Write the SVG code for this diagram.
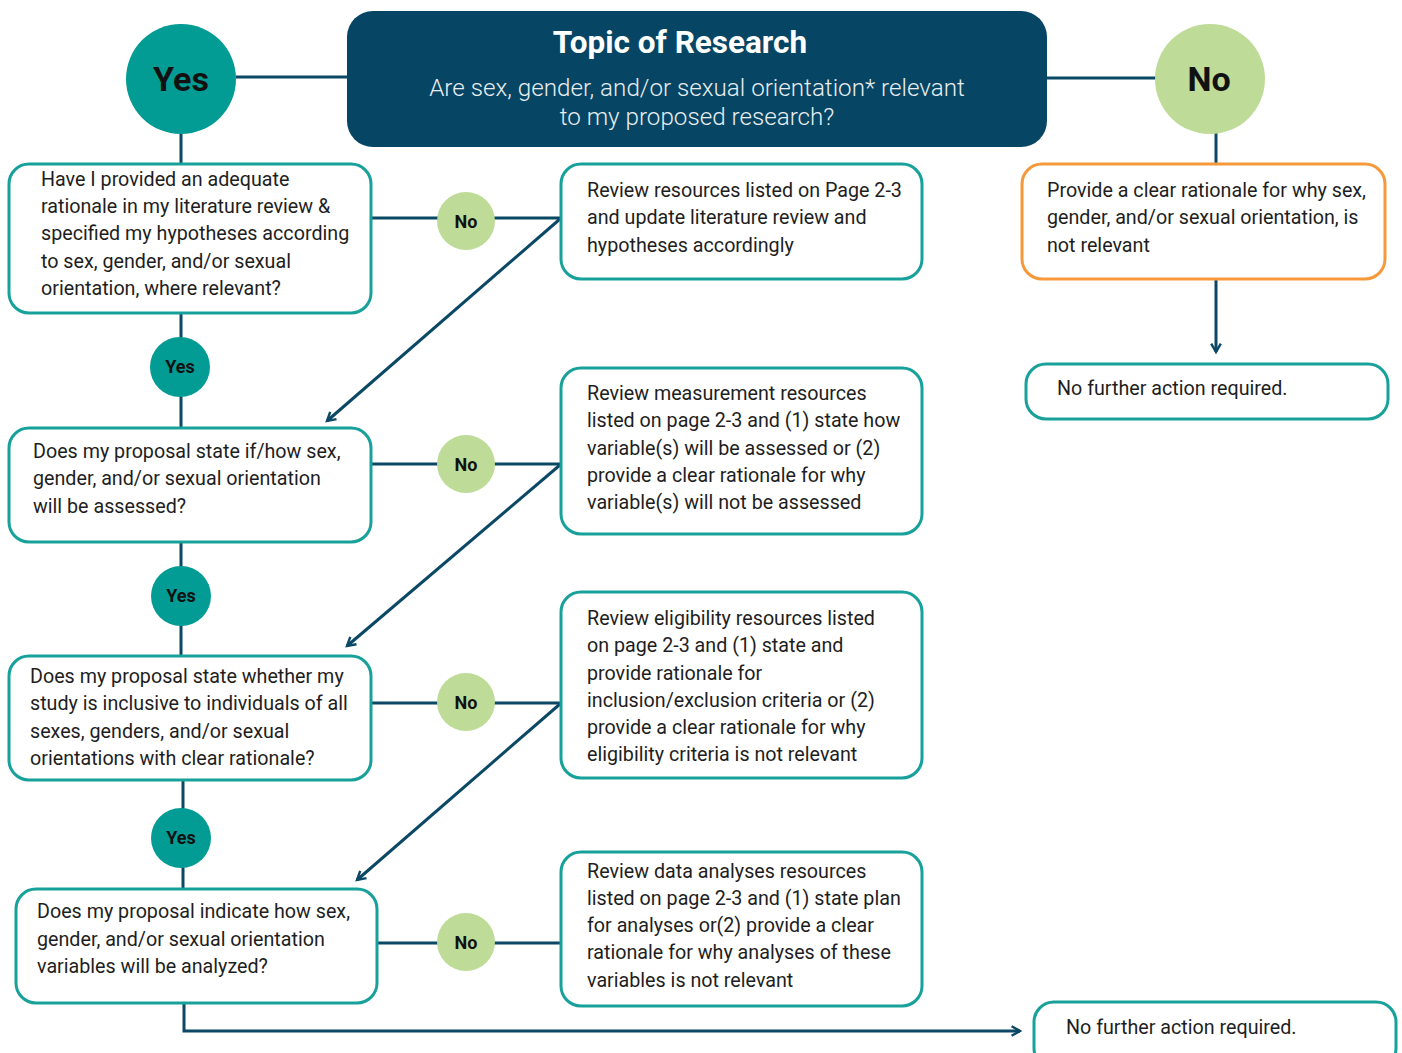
<svg xmlns="http://www.w3.org/2000/svg" width="1402" height="1053" viewBox="0 0 1402 1053">
<style>
.box{fill:#fff;stroke:#17a19a;stroke-width:3}
.obox{fill:#fff;stroke:#f5993b;stroke-width:3}
.t{font-family:Roboto,"Liberation Sans",sans-serif;font-size:19.7px;fill:#1e1e1e}
.yes{fill:#029c94}
.no{fill:#bedb97}
.lbl{font-family:Roboto,"Liberation Sans",sans-serif;font-weight:bold;font-size:18px;fill:#111;text-anchor:middle}
.big{font-family:Roboto,"Liberation Sans",sans-serif;font-weight:bold;font-size:34px;fill:#111;text-anchor:middle}
.ln{stroke:#0b4865;stroke-width:3;fill:none}
</style>
<defs>
<marker id="ah" viewBox="0 0 10 10" refX="8" refY="5" markerWidth="4" markerHeight="4" orient="auto-start-reverse" markerUnits="strokeWidth">
<path d="M1,1 L8,5 L1,9" fill="none" stroke="#0b4865" stroke-width="2"/>
</marker>
</defs>
<rect width="1402" height="1053" fill="#fff"/>
<g id="connectors">
<line class="ln" x1="236" y1="77" x2="348" y2="77"/>
<line class="ln" x1="1046" y1="78" x2="1156" y2="78"/>
<line class="ln" x1="181" y1="133" x2="181" y2="164"/>
<line class="ln" x1="1216" y1="133" x2="1216" y2="164"/>
<line class="ln" x1="1216" y1="279" x2="1216" y2="352" marker-end="url(#ah)"/>
<line class="ln" x1="181" y1="313" x2="181" y2="428"/>
<line class="ln" x1="181" y1="542" x2="181" y2="656"/>
<line class="ln" x1="183" y1="780" x2="183" y2="889"/>
<polyline class="ln" points="184,1003 184,1031 1020,1031" marker-end="url(#ah)"/>
<line class="ln" x1="371" y1="218" x2="561" y2="218"/>
<line class="ln" x1="371" y1="464" x2="561" y2="464"/>
<line class="ln" x1="371" y1="703" x2="561" y2="703"/>
<line class="ln" x1="377" y1="943" x2="561" y2="943"/>
<line class="ln" x1="560" y1="219" x2="327" y2="421" marker-end="url(#ah)"/>
<line class="ln" x1="560" y1="465" x2="347" y2="646" marker-end="url(#ah)"/>
<line class="ln" x1="560" y1="704" x2="357" y2="880" marker-end="url(#ah)"/>
</g>
<g id="topic">
<rect x="347" y="11" width="700" height="136" rx="26" fill="#064563"/>
<text x="680" y="53" text-anchor="middle" font-family="Roboto,'Liberation Sans',sans-serif" font-weight="bold" font-size="31.5" fill="#fff">Topic of Research</text>
<text x="697" y="96" text-anchor="middle" font-family="Roboto,'Liberation Sans',sans-serif" font-weight="300" font-size="24.2" fill="#e8eef2">Are sex, gender, and/or sexual orientation* relevant</text>
<text x="697" y="125" text-anchor="middle" font-family="Roboto,'Liberation Sans',sans-serif" font-weight="300" font-size="24.2" fill="#e8eef2">to my proposed research?</text>
</g>
<g id="yes-main"><circle class="yes" cx="181" cy="79" r="55"/><text class="big" x="181" y="91">Yes</text></g>
<g id="no-main"><circle class="no" cx="1210" cy="79" r="55"/><text class="big" x="1209" y="91">No</text></g>
<g id="q1">
<rect class="box" x="9" y="164" width="362" height="149" rx="20"/>
<text class="t"><tspan x="41" y="186">Have I provided an adequate</tspan><tspan x="41" y="213">rationale in my literature review &amp;</tspan><tspan x="41" y="240">specified my hypotheses according</tspan><tspan x="41" y="268">to sex, gender, and/or sexual</tspan><tspan x="41" y="295">orientation, where relevant?</tspan></text>
</g>
<g id="no1"><circle class="no" cx="466" cy="221" r="29"/><text class="lbl" x="466" y="228">No</text></g>
<g id="r1">
<rect class="box" x="561" y="164" width="361" height="115" rx="20"/>
<text class="t"><tspan x="587" y="197">Review resources listed on Page 2-3</tspan><tspan x="587" y="224">and update literature review and</tspan><tspan x="587" y="252">hypotheses accordingly</tspan></text>
</g>
<g id="yes1"><circle class="yes" cx="180" cy="367" r="30"/><text class="lbl" x="180" y="373">Yes</text></g>
<g id="q2">
<rect class="box" x="9" y="428" width="362" height="114" rx="20"/>
<text class="t"><tspan x="33" y="458">Does my proposal state if/how sex,</tspan><tspan x="33" y="485">gender, and/or sexual orientation</tspan><tspan x="33" y="513">will be assessed?</tspan></text>
</g>
<g id="no2"><circle class="no" cx="466" cy="464" r="29"/><text class="lbl" x="466" y="471">No</text></g>
<g id="r2">
<rect class="box" x="561" y="368" width="361" height="166" rx="20"/>
<text class="t"><tspan x="587" y="400">Review measurement resources</tspan><tspan x="587" y="427">listed on page 2-3 and (1) state how</tspan><tspan x="587" y="455">variable(s) will be assessed or (2)</tspan><tspan x="587" y="482">provide a clear rationale for why</tspan><tspan x="587" y="509">variable(s) will not be assessed</tspan></text>
</g>
<g id="yes2"><circle class="yes" cx="181" cy="596" r="30"/><text class="lbl" x="181" y="602">Yes</text></g>
<g id="q3">
<rect class="box" x="9" y="656" width="362" height="124" rx="20"/>
<text class="t"><tspan x="30" y="683">Does my proposal state whether my</tspan><tspan x="30" y="710">study is inclusive to individuals of all</tspan><tspan x="30" y="738">sexes, genders, and/or sexual</tspan><tspan x="30" y="765">orientations with clear rationale?</tspan></text>
</g>
<g id="no3"><circle class="no" cx="466" cy="702" r="29"/><text class="lbl" x="466" y="709">No</text></g>
<g id="r3">
<rect class="box" x="561" y="592" width="361" height="186" rx="20"/>
<text class="t"><tspan x="587" y="625">Review eligibility resources listed</tspan><tspan x="587" y="652">on page 2-3 and (1) state and</tspan><tspan x="587" y="680">provide rationale for</tspan><tspan x="587" y="707">inclusion/exclusion criteria or (2)</tspan><tspan x="587" y="734">provide a clear rationale for why</tspan><tspan x="587" y="761">eligibility criteria is not relevant</tspan></text>
</g>
<g id="yes3"><circle class="yes" cx="181" cy="838" r="30"/><text class="lbl" x="181" y="844">Yes</text></g>
<g id="q4">
<rect class="box" x="16" y="889" width="361" height="114" rx="20"/>
<text class="t"><tspan x="37" y="918">Does my proposal indicate how sex,</tspan><tspan x="37" y="946">gender, and/or sexual orientation</tspan><tspan x="37" y="973">variables will be analyzed?</tspan></text>
</g>
<g id="no4"><circle class="no" cx="466" cy="942" r="29"/><text class="lbl" x="466" y="949">No</text></g>
<g id="r4">
<rect class="box" x="561" y="852" width="361" height="154" rx="20"/>
<text class="t"><tspan x="587" y="878">Review data analyses resources</tspan><tspan x="587" y="905">listed on page 2-3 and (1) state plan</tspan><tspan x="587" y="932">for analyses or(2) provide a clear</tspan><tspan x="587" y="959">rationale for why analyses of these</tspan><tspan x="587" y="987">variables is not relevant</tspan></text>
</g>
<g id="orange">
<rect class="obox" x="1022" y="164" width="363" height="115" rx="20"/>
<text class="t"><tspan x="1047" y="197">Provide a clear rationale for why sex,</tspan><tspan x="1047" y="224">gender, and/or sexual orientation, is</tspan><tspan x="1047" y="252">not relevant</tspan></text>
</g>
<g id="end1">
<rect class="box" x="1026" y="364" width="362" height="55" rx="20"/>
<text class="t" x="1057" y="395">No further action required.</text>
</g>
<g id="end2">
<rect class="box" x="1034" y="1002" width="362" height="66" rx="20"/>
<text class="t" x="1066" y="1034">No further action required.</text>
</g>
</svg>
